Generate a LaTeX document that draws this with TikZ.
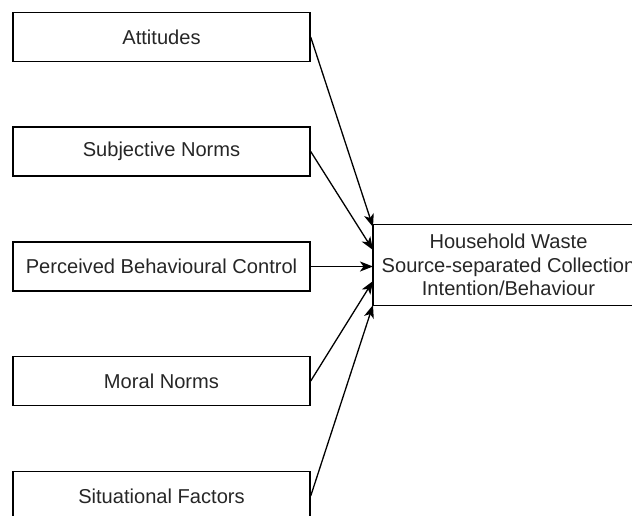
\documentclass[tikz,border=0pt]{standalone}
\usepackage{fontspec}
\setmainfont{Liberation Sans}
\usetikzlibrary{arrows.meta}

\begin{document}
\begin{tikzpicture}[x=1pt,y=-1pt,
   factor/.style={draw=black,line width=1.4pt,minimum width=297pt,minimum height=49pt,
     inner sep=0pt,text=black!85,font=\fontsize{20.1}{23.5}\selectfont},
   outcome/.style={draw=black,line width=1.4pt,minimum width=271pt,minimum height=81pt,
     inner sep=0pt,align=center,text=black!85,font=\fontsize{20.1}{23.5}\selectfont},
   link/.style={black,line width=1.3pt,-{Stealth[length=13pt,width=10pt,inset=3.5pt]}}]
   \clip (0,0) rectangle (632,515);
   \node[factor] (att) at (161.5,37) {Attitudes};
   \node[factor] (subj) at (161.5,151.5) {Subjective Norms};
   \node[factor] (pbc) at (161.5,266.5) {Perceived Behavioural Control};
   \node[factor] (moral) at (161.5,381) {Moral Norms};
   \node[factor] (sit) at (161.5,496) {Situational Factors};
   \node[outcome] (hws) at (508.5,265) {Household Waste\\Source-separated Collection\\Intention/Behaviour};
   \coordinate (in1) at (373,227);
   \coordinate (in2) at (373,250);
   \coordinate (in3) at (373,266.5);
   \coordinate (in4) at (373,281);
   \coordinate (in5) at (373,305);
   \draw[link] (att.east)--(in1);
   \draw[link] (subj.east)--(in2);
   \draw[link] (pbc.east)--(in3);
   \draw[link] (moral.east)--(in4);
   \draw[link] (sit.east)--(in5);
\end{tikzpicture}
\end{document}
